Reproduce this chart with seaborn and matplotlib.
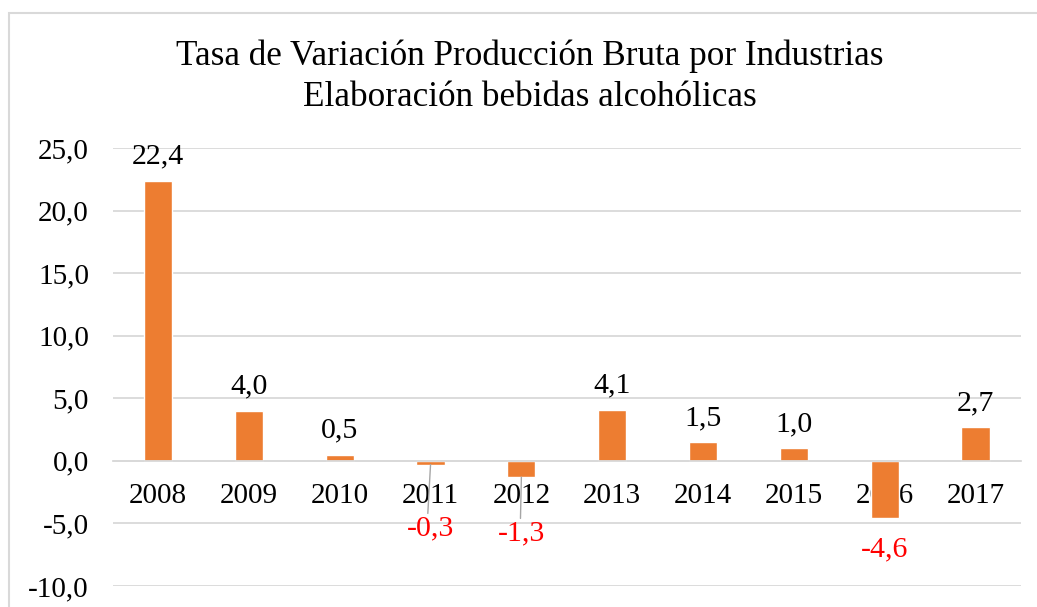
import matplotlib
matplotlib.use("Agg")
import matplotlib.pyplot as plt
import seaborn as sns
import pandas as pd
from matplotlib.patches import Rectangle

years = ["2008", "2009", "2010", "2011", "2012", "2013", "2014", "2015", "2016", "2017"]
values = [22.4, 4.0, 0.5, -0.3, -1.3, 4.1, 1.5, 1.0, -4.6, 2.7]
yticks = [-10, -5, 0, 5, 10, 15, 20, 25]
title = "Tasa de Variación Producción Bruta por Industrias\nElaboración bebidas alcohólicas"

df = pd.DataFrame({"year": years, "value": values})

sns.set_theme(style="white")
plt.rcParams["font.family"] = ["Liberation Serif", "DejaVu Serif"]

W, H = 1037, 607
fig = plt.figure(figsize=(W / 100, H / 100), dpi=100)
ax = fig.add_axes([112.6 / W, 1 - 586 / H, (1021 - 112.6) / W, (586 - 148) / H])

# chart border
fig.patches.append(Rectangle((9 / W, -0.1), 1.2, 1 - 13 / H + 0.1, transform=fig.transFigure,
                             fill=False, edgecolor="#d9d9d9", linewidth=1.5, zorder=0))

sns.barplot(data=df, x="year", y="value", color="#ED7D31", width=0.31, saturation=1,
            ax=ax, zorder=2)

ax.set_axisbelow(True)
ax.set_ylim(-10, 25)
ax.set_xlim(-0.5, len(years) - 0.5)
ax.set_yticks(yticks)
ax.set_yticklabels([f"{v:.1f}".replace(".", ",") for v in yticks])
ax.yaxis.grid(True, color="#d9d9d9", linewidth=1.3)
ax.xaxis.grid(False)
for s in ["top", "right", "left"]:
    ax.spines[s].set_visible(False)
ax.spines["bottom"].set_position(("data", 0))
ax.spines["bottom"].set_color("#d9d9d9")
ax.spines["bottom"].set_linewidth(1.3)
ax.tick_params(axis="x", length=0, pad=16, labelsize=21, colors="black")
ax.tick_params(axis="y", length=0, pad=17, labelsize=21, colors="black")
ax.set_xlabel("")
ax.set_ylabel("")

# data labels
neg_label_y = {3: -5.4, 4: -5.8, 8: -7.1}
for i, v in enumerate(values):
    txt = f"{v:.1f}".replace(".", ",")
    if v >= 0:
        ax.annotate(txt, (i, v), xytext=(0, 8), textcoords="offset points",
                    ha="center", va="bottom", fontsize=21.5, color="black")
    else:
        ly = neg_label_y.get(i, v - 2)
        ax.text(i, ly, txt, ha="center", va="center", fontsize=21.5, color="red")
        if i in (3, 4):
            ax.plot([i, i - 0.03 if i == 3 else i - 0.01], [v, ly + 1.2], color="#a6a6a6",
                    linewidth=1, zorder=3)

fig.text(530 / W, 1 - 77 / H, title, ha="center", va="center", fontsize=25.3,
         color="black", linespacing=1.33)

fig.savefig("out.png", dpi=100)
